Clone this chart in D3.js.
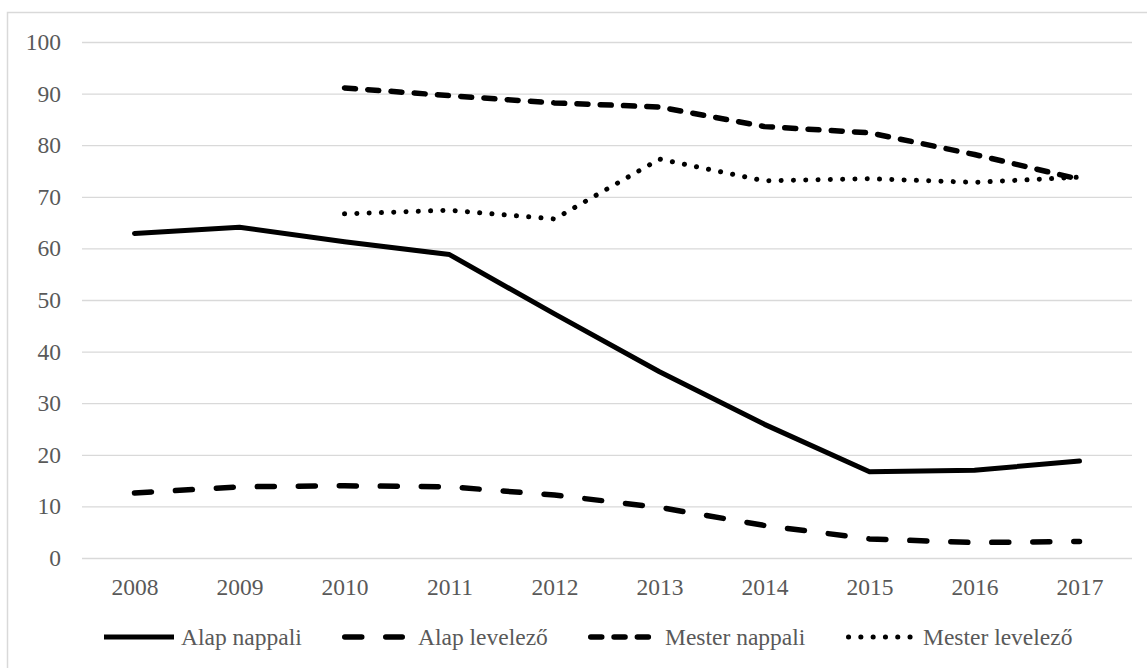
<!DOCTYPE html>
<html>
<head>
<meta charset="utf-8">
<script src="https://cdn.jsdelivr.net/npm/d3@7"></script>
<style>
  body { margin: 0; background: #fff; }
  svg { font-family: "Liberation Serif", "Times New Roman", serif; }
</style>
</head>
<body>
<svg width="1147" height="668"></svg>
<script>
// data
var years = [2008, 2009, 2010, 2011, 2012, 2013, 2014, 2015, 2016, 2017];
var alapNappali   = [62.9, 64.1, 61.3, 58.8, 47.3, 36.1, 25.9, 16.7, 17.0, 18.8];
var alapLevelezo  = [12.6, 13.8, 14.0, 13.8, 12.2, 9.8, 6.3, 3.7, 3.0, 3.2];
var mesterNappali = [null, null, 91.1, 89.6, 88.2, 87.4, 83.6, 82.4, 78.2, 73.4];
var mesterLevelezo = [null, null, 66.7, 67.4, 65.7, 77.3, 73.1, 73.5, 72.8, 73.8];
var yTicks = [0, 10, 20, 30, 40, 50, 60, 70, 80, 90, 100];

var series = [
  {name: "Alap nappali", values: alapNappali, width: 5, dash: null},
  {name: "Alap levelező", values: alapLevelezo, width: 5.5, dash: "17,24"},
  {name: "Mester nappali", values: mesterNappali, width: 5.5, dash: "11,12.3"},
  {name: "Mester levelező", values: mesterLevelezo, width: 5, dash: "0.1,12.2"}
];

var svg = d3.select("svg");
var textColor = "#595959",
    gridColor = "#d9d9d9",
    fontSize = "23.5px";

// chart frame
svg.append("rect")
  .attr("x", 7.5).attr("y", 12.5)
  .attr("width", 1150).attr("height", 670)
  .attr("fill", "none")
  .attr("stroke", gridColor)
  .attr("stroke-width", 1.5);

// plot area
var plotLeft = 82, plotRight = 1132, plotTop = 42, plotBottom = 558;

var x = d3.scalePoint()
  .domain(years)
  .range([plotLeft, plotRight])
  .padding(0.5);

var y = d3.scaleLinear()
  .domain([0, 100])
  .range([plotBottom, plotTop]);

// y axis + gridlines
var gY = svg.append("g")
  .attr("transform", "translate(" + plotLeft + ",0)")
  .call(d3.axisLeft(y).tickValues(yTicks).tickSize(-(plotRight - plotLeft)).tickPadding(21));
gY.select(".domain").remove();
gY.selectAll("line").attr("stroke", gridColor).attr("stroke-width", 1.3);
gY.selectAll("text")
  .attr("fill", textColor)
  .style("font-size", fontSize)
  .style("font-family", "Liberation Serif, serif");

// x axis
var gX = svg.append("g")
  .attr("transform", "translate(0," + plotBottom + ")")
  .call(d3.axisBottom(x).tickSize(0).tickPadding(20));
gX.select(".domain").remove();
gX.selectAll("text")
  .attr("fill", textColor)
  .style("font-size", fontSize)
  .style("font-family", "Liberation Serif, serif");

// lines
var line = d3.line()
  .defined(function(d) { return d != null; })
  .x(function(d, i) { return x(years[i]); })
  .y(function(d) { return y(d); });

svg.append("g").selectAll("path")
  .data(series)
  .enter().append("path")
    .attr("d", function(s) { return line(s.values); })
    .attr("fill", "none")
    .attr("stroke", "#000")
    .attr("stroke-width", function(s) { return s.width; })
    .attr("stroke-dasharray", function(s) { return s.dash; })
    .attr("stroke-linecap", "round")
    .attr("stroke-linejoin", "round");

// legend
var legendX = [104, 342, 588, 846],
    legendLen = [70, 63, 64, 64],
    legendInset = [0, 2.75, 2.75, 2.5],
    legendTextX = [181, 418, 665, 923],
    legendY = 637;

var lg = svg.append("g").selectAll("g")
  .data(series)
  .enter().append("g");

lg.append("line")
  .attr("x1", function(s, i) { return legendX[i] + legendInset[i]; })
  .attr("x2", function(s, i) { return legendX[i] + legendLen[i] - legendInset[i] + (i == 3 ? 4 : 0); })
  .attr("y1", legendY).attr("y2", legendY)
  .attr("stroke", "#000")
  .attr("stroke-width", function(s) { return s.width; })
  .attr("stroke-dasharray", function(s) { return s.dash; })
  .attr("stroke-linecap", function(s) { return s.dash ? "round" : "butt"; });

lg.append("text")
  .attr("x", function(s, i) { return legendTextX[i]; })
  .attr("y", legendY)
  .attr("dy", "0.35em")
  .attr("fill", textColor)
  .style("font-size", fontSize)
  .text(function(s) { return s.name; });
</script>
</body>
</html>
